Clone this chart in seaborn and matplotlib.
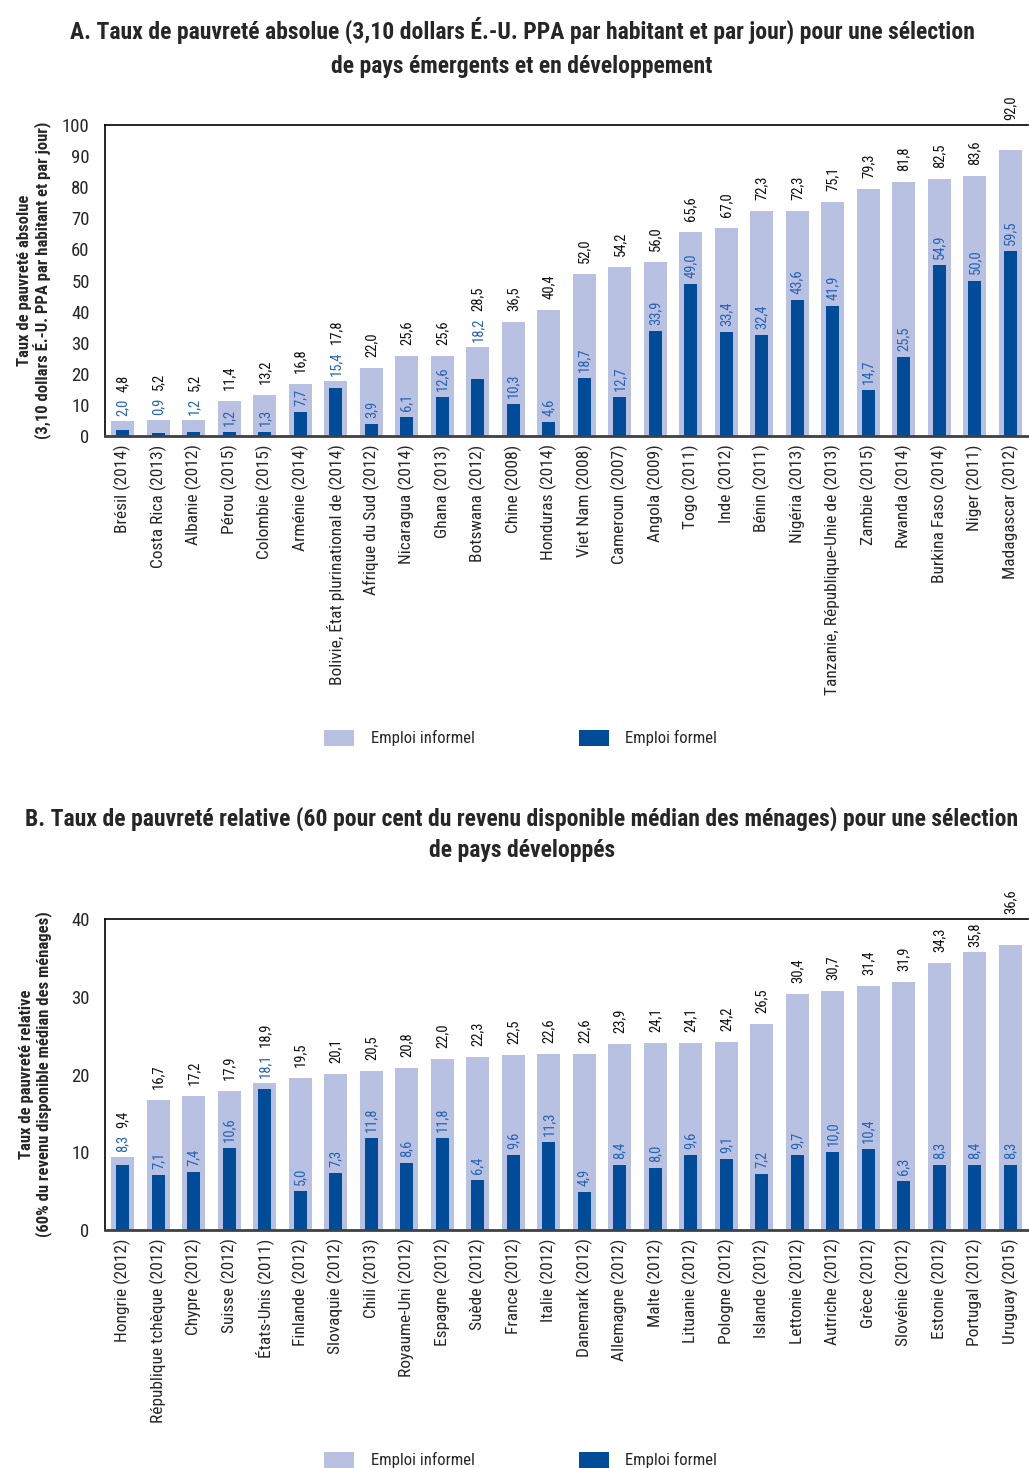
import matplotlib
matplotlib.use("Agg")
import matplotlib.pyplot as plt
import seaborn as sns

sns.set_style("white")
plt.rcParams['font.family'] = ['Roboto Condensed', 'DejaVu Sans']

# panel A data
pays_a = ['Brésil (2014)', 'Costa Rica (2013)', 'Albanie (2012)', 'Pérou (2015)', 'Colombie (2015)',
          'Arménie (2014)', 'Bolivie, État plurinational de (2014)', 'Afrique du Sud (2012)',
          'Nicaragua (2014)', 'Ghana (2013)', 'Botswana (2012)', 'Chine (2008)', 'Honduras (2014)',
          'Viet Nam (2008)', 'Cameroun (2007)', 'Angola (2009)', 'Togo (2011)', 'Inde (2012)',
          'Bénin (2011)', 'Nigéria (2013)', 'Tanzanie, République-Unie de (2013)', 'Zambie (2015)',
          'Rwanda (2014)', 'Burkina Faso (2014)', 'Niger (2011)', 'Madagascar (2012)']
informel_a = [4.8, 5.2, 5.2, 11.4, 13.2, 16.8, 17.8, 22.0, 25.6, 25.6, 28.5, 36.5, 40.4,
              52.0, 54.2, 56.0, 65.6, 67.0, 72.3, 72.3, 75.1, 79.3, 81.8, 82.5, 83.6, 92.0]
formel_a = [2.0, 0.9, 1.2, 1.2, 1.3, 7.7, 15.4, 3.9, 6.1, 12.6, 18.2, 10.3, 4.6,
            18.7, 12.7, 33.9, 49.0, 33.4, 32.4, 43.6, 41.9, 14.7, 25.5, 54.9, 50.0, 59.5]

# panel B data
pays_b = ['Hongrie (2012)', 'République tchèque (2012)', 'Chypre (2012)', 'Suisse (2012)',
          'États-Unis (2011)', 'Finlande (2012)', 'Slovaquie (2012)', 'Chili (2013)',
          'Royaume-Uni (2012)', 'Espagne (2012)', 'Suède (2012)', 'France (2012)', 'Italie (2012)',
          'Danemark (2012)', 'Allemagne (2012)', 'Malte (2012)', 'Lituanie (2012)', 'Pologne (2012)',
          'Islande (2012)', 'Lettonie (2012)', 'Autriche (2012)', 'Grèce (2012)', 'Slovénie (2012)',
          'Estonie (2012)', 'Portugal (2012)', 'Uruguay (2015)']
informel_b = [9.4, 16.7, 17.2, 17.9, 18.9, 19.5, 20.1, 20.5, 20.8, 22.0, 22.3, 22.5, 22.6,
              22.6, 23.9, 24.1, 24.1, 24.2, 26.5, 30.4, 30.7, 31.4, 31.9, 34.3, 35.8, 36.6]
formel_b = [8.3, 7.1, 7.4, 10.6, 18.1, 5.0, 7.3, 11.8, 8.6, 11.8, 6.4, 9.6, 11.3,
            4.9, 8.4, 8.0, 9.6, 9.1, 7.2, 9.7, 10.0, 10.4, 6.3, 8.3, 8.4, 8.3]

titre_a = ["A. Taux de pauvreté absolue (3,10 dollars É.-U. PPA par habitant et par jour) pour une sélection",
           "de pays émergents et en développement"]
titre_b = ["B. Taux de pauvreté relative (60 pour cent du revenu disponible médian des ménages) pour une sélection",
           "de pays développés"]
ylab_a = "Taux de pauvreté absolue\n(3,10 dollars É.-U. PPA par habitant et par jour)"
ylab_b = "Taux de pauvreté relative\n(60% du revenu disponible médian des ménages)"

CLAIR = "#B9C1E2"
FONCE = "#004C98"
BLEU_TXT = "#2563B4"

W, H = 1029, 1468
fig = plt.figure(figsize=(W / 100, H / 100), dpi=100)


def fmt(v):
    return f"{v:.1f}".replace('.', ',')


def panel(top_px, pays, inf, form, ymax, ylab, titre, title_y, leg_y):
    ax = fig.add_axes([105 / W, 1 - (top_px + 311) / H, 923 / W, 311 / H])
    sns.barplot(x=pays, y=inf, color=CLAIR, width=0.64, saturation=1, linewidth=0,
                ax=ax, label="Emploi informel")
    sns.barplot(x=pays, y=form, color=FONCE, width=0.36, saturation=1, linewidth=0,
                ax=ax, label="Emploi formel")
    if ax.get_legend() is not None:
        ax.get_legend().remove()
    ax.set_ylim(0, ymax)
    ax.set_xlim(-0.5, len(pays) - 0.5)
    ax.set_yticks(range(0, ymax + 1, 10))
    ax.tick_params(axis='y', length=0, pad=11, labelsize=13.5)
    ax.tick_params(axis='x', length=0, pad=6, labelsize=12.5, rotation=90)
    ax.set_xlabel("")
    ax.set_ylabel(ylab, fontsize=12, fontweight='bold', linespacing=1.1)
    ax.yaxis.set_label_coords(-0.057, 0.5)
    ax.spines['right'].set_visible(False)
    ax.spines['top'].set_linewidth(1.2)
    ax.spines['left'].set_linewidth(1.2)
    ax.spines['bottom'].set_linewidth(2)
    ax.spines['bottom'].set_color('#404040')
    for s in ['top', 'left']:
        ax.spines[s].set_color('black')

    # value labels
    fig.canvas.draw()
    r = fig.canvas.get_renderer()
    top_spine = ax.transAxes.transform((0, 1))[1]
    for i, (vi, vf) in enumerate(zip(inf, form)):
        inf_px = ax.transData.transform((i, vi))[1]
        tb = ax.annotate(fmt(vf), (i, vf), xytext=(0, 6), textcoords='offset pixels',
                         rotation=90, ha='center', va='bottom', color=BLEU_TXT, fontsize=10.5)
        bb = tb.get_window_extent(r)
        off = 11
        if bb.y1 > inf_px - 3:
            tb.xy = (i, vi)
            tb.set_position((0, 5))
            bb = tb.get_window_extent(r)
            off = bb.y1 - inf_px + 7
        tk = ax.annotate(fmt(vi), (i, vi), xytext=(0, off), textcoords='offset pixels',
                         rotation=90, ha='center', va='bottom', color='#111111', fontsize=10.5)
        bk = tk.get_window_extent(r)
        if bk.y1 > top_spine - 2:
            tk.set_position((0, 5))
            bk = tk.get_window_extent(r)
            if bk.y1 > top_spine - 2:
                tk.set_position((0, top_spine - inf_px + 5))

    for k, line in enumerate(titre):
        fig.text(522 / W, 1 - title_y[k] / H, line, ha='center', va='center',
                 fontsize=17, fontweight='bold')

    h, l = ax.get_legend_handles_labels()
    fig.legend(h, l, loc='center left', bbox_to_anchor=(324 / W, 1 - leg_y / H),
               bbox_transform=fig.transFigure, ncol=2, frameon=False, fontsize=12,
               handlelength=1.8, handleheight=1.1, handletextpad=1.0, columnspacing=6.25,
               borderpad=0, borderaxespad=0)
    return ax


panel(125, pays_a, informel_a, formel_a, 100, ylab_a, titre_a, (30, 67), 738)
panel(919, pays_b, informel_b, formel_b, 40, ylab_b, titre_b, (819, 851), 1460)

fig.savefig("out.png", dpi=100)
